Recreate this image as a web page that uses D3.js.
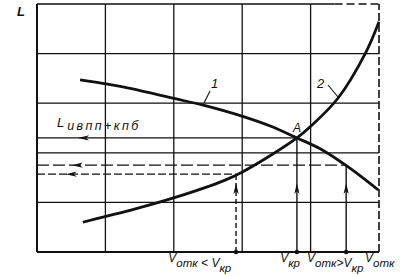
<!DOCTYPE html>
<html>
<head>
<meta charset="utf-8">
<script src="https://cdn.jsdelivr.net/npm/d3@7"></script>
<style>
body{margin:0;background:#fff}
svg{display:block}
text{font-family:"Liberation Sans",Arial,sans-serif;font-style:italic;fill:#111}
</style>
</head>
<body>
<svg id="chart" width="406" height="276"></svg>
<script>
// curve 1 (falling) and curve 2 (rising), in grid units
var curve1X = [0.63, 1.01, 1.36, 2.02, 2.43, 3.04, 3.41, 3.80, 4.14, 4.47, 4.75, 4.99];
var curve1Y = [3.47, 3.39, 3.30, 3.09, 2.96, 2.72, 2.54, 2.30, 2.08, 1.79, 1.51, 1.25];
var curve2X = [0.67, 1.01, 1.36, 2.02, 2.75, 3.01, 3.36, 3.80, 3.99, 4.40, 4.81, 5.00];
var curve2Y = [0.60, 0.72, 0.84, 1.10, 1.45, 1.62, 1.90, 2.30, 2.52, 3.10, 4.03, 4.64];

var gridX = [1, 2, 3, 4];
var gridY = [1, 2, 3, 4];

// the three marked speeds: V_отк<V_кр, V_кр (point A), V_отк>V_кр
var markX = [2.91, 3.80, 4.52];
var markLevel = [1.57, 2.30, 1.75];
var arrowTipX = [0.42, 0.60, 0.51];
var arrowTipY = 1.39;

var bottomLabels = ["V_отк < V_кр", "V_кр", "V_отк>V_кр", "V_отк"];
var bottomLabelX = [2.38, 3.70, 4.36, 5.01];

var svg = d3.select("#chart");
var x = d3.scaleLinear().domain([0, 5]).range([37, 379]);
var y = d3.scaleLinear().domain([0, 5]).range([252, 4]);
var ink = "#111";

// grid
svg.selectAll(".gx").data(gridX).enter().append("line")
  .attr("x1", d => x(d)).attr("x2", d => x(d))
  .attr("y1", y(0)).attr("y2", y(5))
  .attr("stroke", ink).attr("stroke-width", 1.3);
svg.selectAll(".gy").data(gridY).enter().append("line")
  .attr("x1", x(0)).attr("x2", x(5))
  .attr("y1", d => y(d)).attr("y2", d => y(d))
  .attr("stroke", ink).attr("stroke-width", 1.3);

// frame: left, bottom solid, top partly dashed, right dashed
svg.append("line").attr("x1", x(0)).attr("x2", x(0)).attr("y1", y(0)).attr("y2", y(5))
  .attr("stroke", ink).attr("stroke-width", 2);
svg.append("line").attr("x1", x(0)).attr("x2", x(5)).attr("y1", y(0)).attr("y2", y(0))
  .attr("stroke", ink).attr("stroke-width", 2);
svg.append("line").attr("x1", x(0)).attr("x2", x(4.35)).attr("y1", y(5)).attr("y2", y(5))
  .attr("stroke", ink).attr("stroke-width", 1.6);
svg.append("line").attr("x1", x(4.35)).attr("x2", x(5)).attr("y1", y(5)).attr("y2", y(5))
  .attr("stroke", ink).attr("stroke-width", 1.6).attr("stroke-dasharray", "8,4");
svg.append("line").attr("x1", x(5)).attr("x2", x(5)).attr("y1", y(0)).attr("y2", y(5))
  .attr("stroke", ink).attr("stroke-width", 1.6).attr("stroke-dasharray", "8,3");

// horizontal level lines with arrows pointing to the L axis
var hDash = ["8,3", null, "12,4"];
markX.forEach(function(mx, i){
  var ly = y(markLevel[i]);
  svg.append("line").attr("x1", x(0)).attr("x2", x(mx)).attr("y1", ly).attr("y2", ly)
    .attr("stroke", ink).attr("stroke-width", 1.3)
    .attr("stroke-dasharray", hDash[i]);
  var tx = x(arrowTipX[i]);
  svg.append("path")
    .attr("d", "M" + tx + "," + ly + "L" + (tx + 11) + "," + (ly - 2.6) + "L" + (tx + 8) + "," + ly + "L" + (tx + 11) + "," + (ly + 2.6) + "Z")
    .attr("fill", ink);
});

// vertical lines from the speed axis up to the curves
var vDash = ["5,3", null, null];
markX.forEach(function(mx, i){
  var lx = x(mx);
  svg.append("line").attr("x1", lx).attr("x2", lx).attr("y1", y(0)).attr("y2", y(markLevel[i]))
    .attr("stroke", ink).attr("stroke-width", 1.4)
    .attr("stroke-dasharray", vDash[i]);
  var ty = y(arrowTipY);
  svg.append("path")
    .attr("d", "M" + lx + "," + ty + "L" + (lx - 2.6) + "," + (ty + 11) + "L" + lx + "," + (ty + 8) + "L" + (lx + 2.6) + "," + (ty + 11) + "Z")
    .attr("fill", ink);
  svg.append("circle").attr("cx", lx).attr("cy", y(0)).attr("r", 2.2).attr("fill", ink);
});

// curves
var line = d3.line().x(d => x(d[0])).y(d => y(d[1])).curve(d3.curveCatmullRom);
svg.append("path").datum(d3.zip(curve1X, curve1Y)).attr("d", line)
  .attr("fill", "none").attr("stroke", ink).attr("stroke-width", 2.8);
svg.append("path").datum(d3.zip(curve2X, curve2Y)).attr("d", line)
  .attr("fill", "none").attr("stroke", ink).attr("stroke-width", 2.8);

// curve labels with leaders
svg.append("text").attr("x", 211).attr("y", 88).attr("font-size", 13).text("1");
svg.append("line").attr("x1", 210).attr("y1", 91).attr("x2", 204).attr("y2", 103)
  .attr("stroke", ink).attr("stroke-width", 1.1);
svg.append("text").attr("x", 317).attr("y", 88).attr("font-size", 13).text("2");
svg.append("line").attr("x1", 328).attr("y1", 85).attr("x2", 338).attr("y2", 97)
  .attr("stroke", ink).attr("stroke-width", 1.1);
svg.append("text").attr("x", 293).attr("y", 132).attr("font-size", 12).text("A");

// axis letter
svg.append("text").attr("x", 17).attr("y", 16).attr("font-size", 13)
  .attr("font-weight", "bold").text("L");

// L_ивпп+кпб
var lt = svg.append("text").attr("x", 57).attr("y", 127).attr("font-size", 13);
lt.append("tspan").text("L");
lt.append("tspan").attr("dy", 3).attr("dx", 3).attr("font-size", 12.5)
  .attr("letter-spacing", 2.4).text("ивпп+кпб");

// speed labels under the axis
bottomLabels.forEach(function(s, i){
  var t = svg.append("text").attr("x", x(bottomLabelX[i])).attr("y", 262)
    .attr("text-anchor", "middle").attr("font-size", 12);
  s.split(/(V_[а-я]+)/).forEach(function(part){
    if (!part) return;
    if (part.indexOf("V_") === 0) {
      t.append("tspan").text("V");
      t.append("tspan").attr("dy", 5).attr("font-size", 11.5).text(part.slice(2));
      t.append("tspan").attr("dy", -5).text("");
    } else {
      t.append("tspan").text(part);
    }
  });
});
</script>
</body>
</html>
